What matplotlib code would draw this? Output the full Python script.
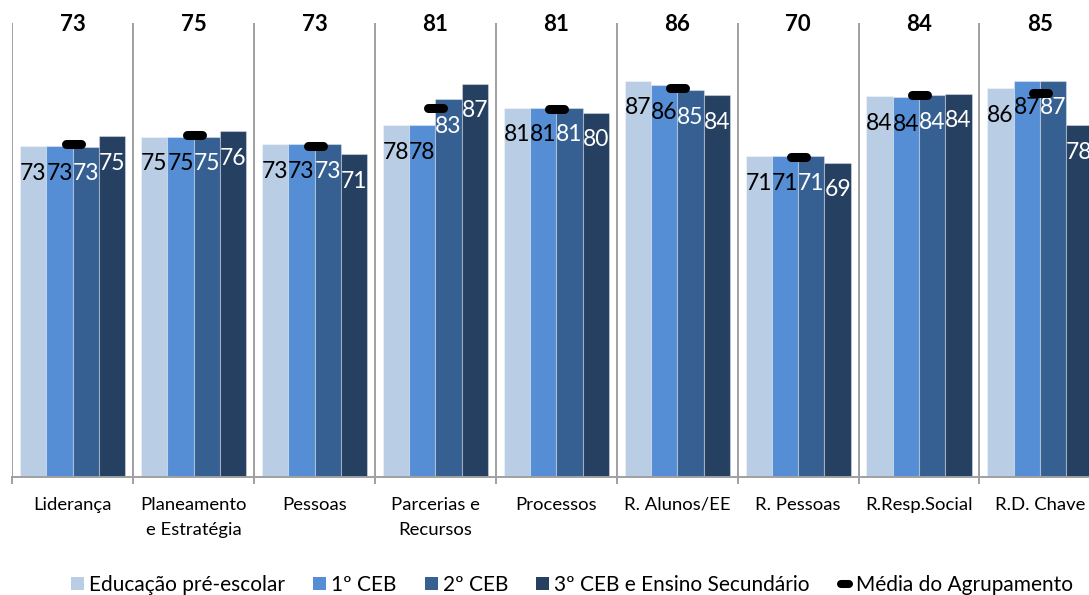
import matplotlib.pyplot as plt
from matplotlib.markers import MarkerStyle
from matplotlib.lines import Line2D
from matplotlib.patches import Patch
import numpy as np

plt.rcParams['font.family'] = ['Lato', 'DejaVu Sans']

# chart data
categories = ['Liderança', 'Planeamento\ne Estratégia', 'Pessoas', 'Parcerias e\nRecursos',
              'Processos', 'R. Alunos/EE', 'R. Pessoas', 'R.Resp.Social', 'R.D. Chave']
series_names = ['Educação pré-escolar', '1º CEB', '2º CEB', '3º CEB e Ensino Secundário']
pre_escolar = [72.9, 74.9, 73.3, 77.5, 81.3, 87.3, 70.7, 83.8, 85.6]
ceb1 = [72.9, 74.9, 73.3, 77.5, 81.3, 86.3, 70.7, 83.6, 87.3]
ceb2 = [72.7, 74.9, 73.3, 83.2, 81.3, 85.2, 70.7, 84.1, 87.3]
ceb3_sec = [75.1, 76.2, 71.1, 86.6, 80.2, 84.1, 69.2, 84.4, 77.5]
media = [73.4, 75.3, 72.8, 81.2, 81.1, 85.7, 70.4, 84.1, 84.6]
media_name = 'Média do Agrupamento'

colors = ['#B9CDE5', '#558ED5', '#376092', '#254061']
label_colors = ['black', 'black', 'white', 'white']
grid_color = '#A0A0A0'


def main():
    fig = plt.figure(figsize=(10.89, 5.95), dpi=100)
    ax = fig.add_axes([12.3 / 1089, 118.3 / 595, 1088.1 / 1089, 453.7 / 595])

    x = np.arange(len(categories))
    w = 0.2175
    all_series = [pre_escolar, ceb1, ceb2, ceb3_sec]
    for i, vals in enumerate(all_series):
        pos = x + (i - 1.5) * w
        bars = ax.bar(pos, vals, width=w, color=colors[i],
                      edgecolor=(1, 1, 1, 0.35), linewidth=0.8, zorder=2)
        for b, v in zip(bars, vals):
            ax.annotate('%.0f' % v, (b.get_x() + b.get_width() / 2, v),
                        xytext=(0, -19.5), textcoords='offset points',
                        ha='center', va='center', fontsize=16.5,
                        color=label_colors[i], zorder=4)

    mk = MarkerStyle('_', capstyle='round')
    ax.plot(x, media, linestyle='none', marker=mk, markersize=10.8,
            markeredgewidth=6.5, color='black', zorder=5)

    # group average on top
    for xi, m in zip(x, media):
        ax.text(xi, 99.56, '%.0f' % m, ha='center', va='center',
                fontsize=16, fontweight='bold')

    ax.set_xlim(-0.5, len(categories) - 0.5)
    ax.set_ylim(0, 100)
    ax.set_yticks([])

    ax.set_xticks(np.arange(len(categories) + 1) - 0.5)
    ax.set_xticklabels([])
    ax.set_xticks(x, minor=True)
    ax.set_xticklabels(categories, minor=True, fontsize=13.3, linespacing=1.7)
    ax.tick_params(axis='x', which='major', length=4.7, width=1.4, color=grid_color)
    ax.tick_params(axis='x', which='minor', length=0, pad=14.5)
    ax.xaxis.grid(True, which='major', color=grid_color, linewidth=1.4, zorder=1)
    ax.set_axisbelow(True)

    for s in ['top', 'right', 'left']:
        ax.spines[s].set_visible(False)
    ax.spines['bottom'].set_color(grid_color)
    ax.spines['bottom'].set_linewidth(1.4)

    handles = [Patch(facecolor=c) for c in colors]
    handles.append(Line2D([], [], linestyle='none', marker=mk, markersize=5.8,
                          markeredgewidth=5.8, color='black'))
    fig.legend(handles, series_names + [media_name], loc='center',
               bbox_to_anchor=(572 / 1089, 10 / 595), ncol=5, frameon=False,
               fontsize=15, handlelength=0.62, handleheight=0.62,
               handletextpad=0.25, columnspacing=1.35, borderaxespad=0)

    fig.savefig('out.png', dpi=100)


if __name__ == '__main__':
    main()
